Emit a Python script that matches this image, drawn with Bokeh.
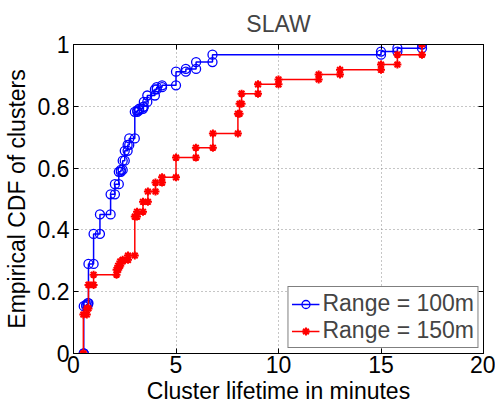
from bokeh.plotting import figure
from bokeh.models import Range1d, LinearAxis, FixedTicker, Legend, LegendItem
from bokeh.embed import file_html
from bokeh.resources import INLINE

# Empirical CDF of cluster lifetimes (minutes): jump positions and CDF level after each jump
blue_x = [0.50, 0.50, 0.62, 0.70, 0.73, 0.98, 1.29, 1.81, 2.02, 2.21, 2.31, 2.40, 2.50,
          2.64, 2.72, 2.99, 3.11, 3.20, 3.39, 3.43, 3.60, 3.97, 4.06, 4.32, 5.00, 5.48,
          5.98, 6.78, 15.0, 15.8, 17.0]
blue_cdf = [0.000, 0.153, 0.158, 0.163, 0.290, 0.387, 0.450, 0.515, 0.548, 0.588, 0.594,
            0.624, 0.656, 0.675, 0.696, 0.782, 0.787, 0.792, 0.798, 0.814, 0.835, 0.855,
            0.862, 0.868, 0.912, 0.921, 0.943, 0.967, 0.977, 0.988, 1.000]

red_x = [0.48, 0.48, 0.65, 0.73, 0.98, 2.10, 2.18, 2.28, 2.40, 2.66, 2.99, 3.10, 3.39,
         3.63, 4.00, 4.32, 5.00, 5.97, 6.80, 8.02, 8.10, 8.20, 9.00, 10.0, 11.96, 13.0,
         15.0, 15.8, 17.0]
red_cdf = [0.000, 0.126, 0.146, 0.222, 0.255, 0.271, 0.284, 0.298, 0.303, 0.317, 0.443,
           0.459, 0.491, 0.524, 0.553, 0.570, 0.634, 0.666, 0.712, 0.776, 0.808, 0.841,
           0.871, 0.887, 0.903, 0.918, 0.935, 0.967, 1.000]

series_labels = ["Range = 100m", "Range = 150m"]
x_ticks = [0, 5, 10, 15, 20]
y_ticks = [0, 0.2, 0.4, 0.6, 0.8, 1]
y_tick_labels = ["0", "0.2", "0.4", "0.6", "0.8", "1"]

FONT = "Liberation Sans"
FS = "23px"


def stairs(xs, ys):
    """Vertices of a staircase: horizontal run, then vertical riser at each jump."""
    sx, sy = [xs[0]], [ys[0]]
    for i in range(1, len(xs)):
        sx += [xs[i], xs[i]]
        sy += [ys[i - 1], ys[i]]
    return sx, sy


p = figure(width=495, height=406, output_backend="svg", toolbar_location=None,
           x_range=Range1d(0, 20), y_range=Range1d(0, 1), title="SLAW",
           min_border_left=70, min_border_right=12, min_border_top=44,
           min_border_bottom=52)
p.outline_line_color = "black"
p.background_fill_color = "white"
p.border_fill_color = "white"

p.title.text_font = FONT
p.title.text_font_size = FS
p.title.text_font_style = "normal"
p.title.align = "center"
p.title.standoff = 15

for ax, ticks in ((p.xaxis[0], x_ticks), (p.yaxis[0], y_ticks)):
    ax.ticker = FixedTicker(ticks=ticks)
    ax.major_tick_in = 5
    ax.major_tick_out = 0
    ax.minor_tick_line_color = None
    ax.axis_line_color = "black"
    ax.major_tick_line_color = "black"
    ax.major_label_text_font = FONT
    ax.major_label_text_font_size = FS
    ax.major_label_text_color = "black"
    ax.axis_label_text_font = FONT
    ax.axis_label_text_font_size = FS
    ax.axis_label_text_font_style = "normal"
    ax.axis_label_text_color = "black"

p.xaxis.axis_label = "Cluster lifetime in minutes"
p.xaxis.major_label_standoff = 2
p.xaxis.axis_label_standoff = 2
p.yaxis.axis_label = "Empirical CDF of clusters"
p.yaxis.major_label_standoff = 4
p.yaxis.axis_label_standoff = 5
p.yaxis.major_label_overrides = {t: s for t, s in zip(y_ticks, y_tick_labels)}

# box ticks on the top and right edges (no labels)
for side, ticks in (("above", x_ticks), ("right", y_ticks)):
    a = LinearAxis(ticker=FixedTicker(ticks=ticks), major_tick_in=5, major_tick_out=0,
                   minor_tick_line_color=None, major_label_text_color=None,
                   major_label_text_font_size="1px", major_label_standoff=0,
                   axis_line_color="black")
    p.add_layout(a, side)

for g, ticks in ((p.xgrid[0], x_ticks), (p.ygrid[0], y_ticks)):
    g.ticker = FixedTicker(ticks=ticks)
    g.grid_line_color = "#8c8c8c"
    g.grid_line_dash = "1 3"
    g.grid_line_width = 1

bx, by = stairs(blue_x, blue_cdf)
rx, ry = stairs(red_x, red_cdf)

bl = p.line(bx, by, line_color="#0000ff", line_width=1.5)
bs = p.scatter(bx, by, marker="circle", size=9, fill_color=None,
               line_color="#0000ff", line_width=1.3)
rl = p.line(rx, ry, line_color="#ff0000", line_width=1.5)
rs = p.scatter(rx, ry, marker="asterisk", size=8, line_color="#ff0000", line_width=2)

legend = Legend(items=[LegendItem(label=series_labels[0], renderers=[bl, bs]),
                       LegendItem(label=series_labels[1], renderers=[rl, rs])],
                location="bottom_right")
legend.border_line_color = "black"
legend.border_line_width = 1
legend.background_fill_alpha = 1
legend.label_text_font = FONT
legend.label_text_font_size = FS
legend.glyph_width = 28
legend.glyph_height = 20
legend.label_height = 22
legend.spacing = 0
legend.padding = 3
legend.margin = 5
legend.label_standoff = 3
p.add_layout(legend)

open("out.html", "w").write(file_html(p, INLINE))
